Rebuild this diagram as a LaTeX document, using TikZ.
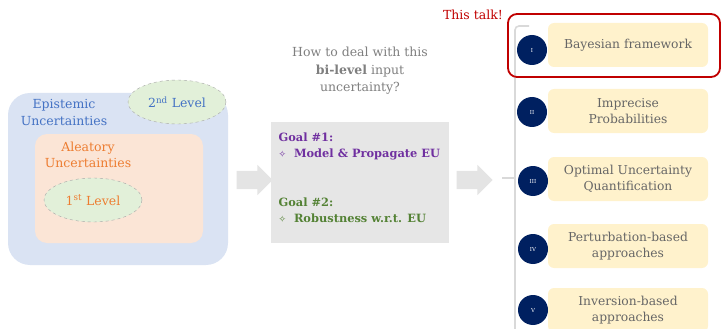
\documentclass[tikz,border=0pt]{standalone}
\usepackage{fontspec}
\setmainfont{DejaVu Serif}
\newfontfamily\symfont{DejaVu Sans}
\usetikzlibrary{shapes.geometric,shapes.arrows}
\definecolor{epiblue}{HTML}{DAE3F3}
\definecolor{epitxt}{HTML}{4472C4}
\definecolor{aleafill}{HTML}{FBE5D6}
\definecolor{aleatxt}{HTML}{ED7D31}
\definecolor{lvlgreen}{HTML}{E2F0D9}
\definecolor{arrgray}{HTML}{E4E4E4}
\definecolor{goalgray}{HTML}{E6E6E6}
\definecolor{goalpurple}{HTML}{7030A0}
\definecolor{goalgreen}{HTML}{548235}
\definecolor{qgray}{HTML}{7F7F7F}
\definecolor{talkred}{HTML}{C00000}
\definecolor{navy}{HTML}{002060}
\definecolor{methfill}{HTML}{FFF2CC}
\definecolor{methtxt}{HTML}{666666}
\definecolor{brgray}{HTML}{D9D9D9}
\tikzset{
  lvl/.style={ellipse,draw=gray!70,dashed,fill=lvlgreen,minimum width=98pt,minimum height=44pt,inner sep=0pt,font=\fontsize{12.5}{15}\selectfont},
  blockarrow/.style={single arrow,fill=arrgray,draw=none,inner xsep=0pt,inner ysep=9pt,single arrow head extend=6pt,minimum height=36pt},
  numdot/.style={circle,fill=navy,minimum size=30pt,inner sep=0pt,text=white,font=\fontsize{5.5}{6}\selectfont},
  methbox/.style={rectangle,rounded corners=6pt,fill=methfill,minimum width=160pt,minimum height=44pt,align=center,text=methtxt,font=\fontsize{12.3}{15.5}\selectfont},
  goaltext/.style={anchor=west,align=left,font=\bfseries\fontsize{11.4}{16}\selectfont},
}
\begin{document}
\begin{tikzpicture}[x=1pt,y=-1pt]
\useasboundingbox (0,0) rectangle (721,329);
% left: uncertainties
\node[fill=epiblue,rounded corners=22pt,minimum width=220pt,minimum height=172pt,inner sep=0pt] (epi) at (118,179) {};
\node[align=center,text=epitxt,font=\fontsize{12.5}{17}\selectfont] (epitext) at (64,112) {Epistemic\\Uncertainties};
\node[lvl,text=epitxt] (lvl2) at (177,102) {2\textsuperscript{nd} Level};
\node[fill=aleafill,rounded corners=12pt,minimum width=168pt,minimum height=109pt,inner sep=0pt] (alea) at (119,188.5) {};
\node[align=center,text=aleatxt,font=\fontsize{12.5}{15.5}\selectfont] (aleatext) at (88,155) {Aleatory\\Uncertainties};
\node[lvl,text=aleatxt] (lvl1) at (93,200) {1\textsuperscript{st} Level};
% arrow 1
\node[blockarrow] (arr1) at (250,180) {};
% question
\node[align=center,text=qgray,font=\fontsize{12.5}{17.5}\selectfont] (question) at (360,71) {How to deal with this\\\textbf{bi-level} input\\uncertainty?};
% goals
\node[fill=goalgray,minimum width=178pt,minimum height=121pt,inner sep=0pt] (goals) at (360,182.5) {};
\node[goaltext,text=goalpurple] (goal1) at (275,146) {Goal \#1:\\{\symfont\fontsize{9}{10}\selectfont\mdseries ✧}\ \ Model \& Propagate EU};
\node[goaltext,text=goalgreen] (goal2) at (275,210) {Goal \#2:\\{\symfont\fontsize{9}{10}\selectfont\mdseries ✧}\ \ Robustness w.r.t. EU};
% arrow 2
\node[blockarrow] (arr2) at (470,180) {};
% bracket
\coordinate (brtop) at (529,26);
\coordinate (brbot) at (515,335);
\coordinate (brtick) at (502,178);
\draw[brgray,line width=1.6pt,rounded corners=4pt] (brtop) -- (515,26) -- (brbot);
\draw[brgray,line width=1.6pt] (brtick) -- (515,178);
% methods
\node[methbox] (m1) at (628,45) {Bayesian framework};
\node[methbox] (m2) at (628,111) {Imprecise\\Probabilities};
\node[methbox] (m3) at (628,179) {Optimal Uncertainty\\Quantification};
\node[methbox] (m4) at (628,246) {Perturbation-based\\approaches};
\node[methbox] (m5) at (628,310) {Inversion-based\\approaches};
\node[numdot] (n1) at (532,50) {I};
\node[numdot] (n2) at (532,112) {II};
\node[numdot] (n3) at (533,181) {III};
\node[numdot] (n4) at (533,249) {IV};
\node[numdot] (n5) at (533,310) {V};
% this talk
\node[draw=talkred,line width=1.8pt,rounded corners=9pt,minimum width=212pt,minimum height=63pt,inner sep=0pt] (talkbox) at (614,45.5) {};
\node[text=talkred,font=\fontsize{12.5}{14}\selectfont] (talk) at (473,15) {This talk!};
\end{tikzpicture}
\end{document}
